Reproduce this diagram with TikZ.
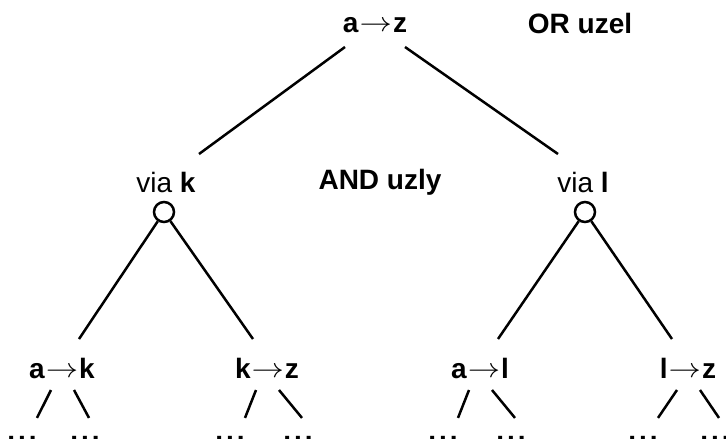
\documentclass[tikz,border=0pt]{standalone}
\usepackage{fontspec}
\setmainfont{Liberation Sans}
\usetikzlibrary{calc}
\tikzset{
  lbl/.style={inner sep=0pt, font=\fontsize{28}{30}\selectfont},
  edge/.style={line width=2.5pt},
  andnode/.style={circle, draw, line width=2.5pt, minimum size=20pt, inner sep=0pt, fill=white},
  dotsnode/.style={inner sep=0pt, anchor=base, font=\fontsize{28}{30}\selectfont\bfseries}
}
\newcommand{\arr}{\kern1pt\raisebox{1pt}{\scalebox{1.3}[1.1]{$\rightarrow$}}\kern1pt}
\newcommand{\threedots}{.\kern3pt.\kern3pt.}
\begin{document}
\begin{tikzpicture}[x=1pt, y=-1pt]
  \useasboundingbox (0,0) rectangle (726,439);

  % OR node
  \node[lbl] (root) at (375,25) {\textbf{a}\arr\textbf{z}};
  \node[lbl] (orlbl) at (580,23) {\textbf{OR uzel}};

  % AND nodes
  \node[lbl] (viak) at (166,182) {via \textbf{k}};
  \node[lbl] (vial) at (583,182) {via \textbf{l}};
  \node[lbl] (andlbl) at (380,182) {\textbf{AND uzly}};
  \node[andnode] (ck) at (164,212) {};
  \node[andnode] (cl) at (585,212) {};

  % subproblems
  \node[lbl] (ak) at (62,368) {\textbf{a}\arr\textbf{k}};
  \node[lbl] (kz) at (267,368) {\textbf{k}\arr\textbf{z}};
  \node[lbl] (al) at (480,368) {\textbf{a}\arr\textbf{l}};
  \node[lbl] (lz) at (688,368) {\textbf{l}\arr\textbf{z}};

  % OR edges
  \draw[edge] ($(root)+(-30,22)$) -- ($(viak)+(33,-28)$);
  \draw[edge] ($(root)+(30,22)$) -- ($(vial)+(-25,-28)$);

  % AND edges
  \draw[edge] (ck) -- ($(ak)+(17,-29)$);
  \draw[edge] (ck) -- ($(kz)+(-14,-29)$);
  \draw[edge] (cl) -- ($(al)+(18,-29)$);
  \draw[edge] (cl) -- ($(lz)+(-16,-29)$);

  % continuation dots
  \foreach \n/\x in {d1/22, d2/85, d3/230, d4/298, d5/443, d6/511, d7/643, d8/715} {
    \node[dotsnode] (\n) at (\x,440) {\threedots};
  }

  % short branches below the subproblems
  \foreach \p/\l/\r in {ak/d1/d2, kz/d3/d4, al/d5/d6, lz/d7/d8} {
    \draw[edge] ($(\p)+(-11,22)$) -- ($(\l)+(15,-20)$);
    \draw[edge] ($(\p)+(12,22)$) -- ($(\r)+(4,-20)$);
  }
\end{tikzpicture}
\end{document}
